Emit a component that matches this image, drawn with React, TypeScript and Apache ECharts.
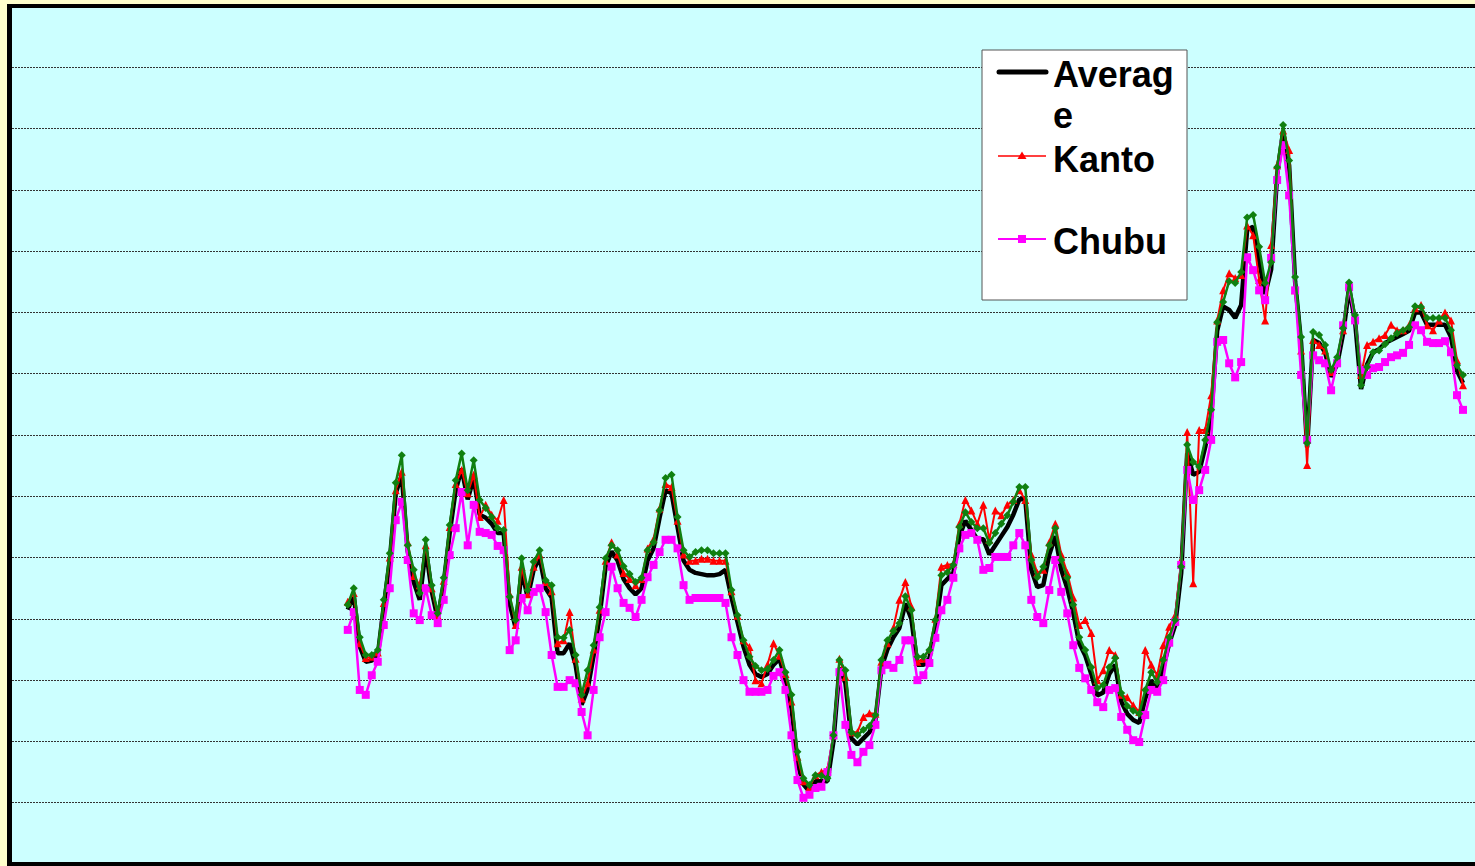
import React, { useEffect, useRef } from "react";
import * as echarts from "echarts";

// Weekly index values (plot units)
const LEAD_EMPTY = 56; // weeks before the series start
const TOTAL_WEEKS = 245;
const categories: string[] = Array.from({ length: TOTAL_WEEKS }, (_, i) => String(i + 1));

const average = [
  41.5, 43.8, 35.5, 33.0, 33.2, 34.0, 42.0, 49.5, 60.5, 63.5,
  51.0, 46.0, 43.1, 51.5, 44.5, 40.0, 45.8, 54.0, 61.0, 64.5,
  59.5, 63.0, 57.0, 56.5, 55.5, 54.0, 54.0, 42.5, 38.5, 48.0,
  43.5, 48.0, 50.0, 45.0, 43.5, 34.4, 34.4, 36.0, 32.5, 26.0,
  28.5, 34.0, 40.5, 48.5, 51.0, 49.5, 46.5, 45.0, 44.0, 45.0,
  49.5, 51.5, 56.5, 61.0, 60.5, 55.0, 49.5, 48.0, 47.5, 47.3,
  47.1, 47.1, 47.3, 48.0, 43.5, 39.5, 35.5, 32.5, 31.0, 30.5,
  31.0, 32.5, 33.5, 30.0, 25.5, 16.5, 13.0, 11.8, 13.5, 13.5,
  13.5, 20.0, 32.0, 29.5, 20.5, 19.5, 20.5, 21.5, 23.5, 32.0,
  35.0, 37.0, 38.5, 42.5, 40.0, 32.5, 32.5, 33.5, 38.5, 45.5,
  46.5, 47.5, 53.5, 56.0, 54.5, 53.0, 53.0, 50.5, 52.0, 53.5,
  55.0, 57.0, 59.5, 59.5, 48.0, 45.2, 45.5, 50.5, 53.5, 48.0,
  45.0, 41.0, 36.0, 34.0, 31.0, 27.5, 28.0, 31.0, 32.5, 26.5,
  24.5, 23.5, 23.0, 27.0, 30.0, 28.5, 32.0, 36.0, 39.0, 47.5,
  67.0, 63.5, 64.0, 68.0, 73.0, 87.0, 91.0, 90.4, 89.1, 91.2,
  103.5, 104.0, 98.5, 93.0, 97.0, 112.5, 119.5, 114.0, 95.0, 85.0,
  68.0, 85.5, 85.0, 83.5, 79.5, 81.5, 86.5, 94.0, 88.5, 77.5,
  81.5, 83.5, 84.0, 85.0, 85.5, 86.0, 86.5, 87.0, 90.0, 90.0,
  88.0, 88.0, 88.0, 88.0, 86.0, 80.5, 78.5,
];

const kanto = [
  42.8, 44.2, 36.0, 33.6, 33.8, 34.5, 42.6, 50.0, 61.0, 64.0,
  52.5, 47.0, 45.5, 52.0, 45.0, 40.5, 46.2, 55.0, 62.0, 64.3,
  60.5, 63.5, 56.6, 58.6, 57.0, 56.0, 59.4, 44.0, 39.0, 48.5,
  44.0, 48.5, 50.5, 46.0, 44.5, 36.0, 36.5, 41.1, 33.5, 27.0,
  29.5, 35.0, 41.5, 49.5, 52.5, 50.5, 47.5, 46.5, 45.5, 46.5,
  51.5, 53.0, 58.0, 62.0, 61.5, 56.0, 50.5, 49.5, 49.5, 49.8,
  49.8, 49.5, 49.5, 49.5, 44.5, 40.5, 36.5, 35.4, 30.0, 29.5,
  32.5, 36.0, 34.0, 31.0, 26.5, 17.5, 13.5, 12.5, 14.5, 15.0,
  15.5, 21.0, 33.5, 30.5, 21.5, 21.5, 24.0, 24.6, 24.5, 33.0,
  36.0, 38.5, 43.1, 46.0, 42.0, 33.0, 33.5, 35.0, 40.0, 48.5,
  48.8, 49.0, 55.5, 59.4, 57.7, 55.5, 58.6, 52.9, 57.7, 56.9,
  58.6, 59.4, 61.0, 59.4, 50.5, 47.5, 48.0, 52.5, 55.5, 50.5,
  47.5, 43.5, 39.0, 39.8, 37.7, 30.0, 31.6, 34.9, 34.1, 27.6,
  27.2, 25.9, 24.8, 34.9, 32.5, 30.8, 35.7, 38.7, 40.6, 49.6,
  70.5, 45.8, 70.8, 70.8, 76.5, 88.7, 93.6, 96.4, 95.6, 96.1,
  104.2, 102.6, 95.3, 88.7, 101.0, 114.0, 119.7, 116.5, 93.6, 83.8,
  65.1, 85.5, 84.7, 83.8, 80.3, 82.2, 87.1, 94.5, 89.1, 79.8,
  84.7, 85.2, 85.8, 86.3, 88.0, 87.1, 87.1, 87.9, 90.7, 91.2,
  87.9, 87.1, 88.7, 90.0, 88.7, 82.2, 78.1,
];

const chubu = [
  38.2, 41.1, 28.4, 27.6, 30.8, 33.0, 39.0, 45.0, 56.1, 59.1,
  49.6, 40.9, 39.8, 45.0, 40.6, 39.3, 43.1, 50.4, 54.8, 60.7,
  52.0, 58.6, 54.2, 54.0, 53.7, 51.9, 51.2, 34.9, 36.5, 43.4,
  41.4, 44.4, 45.0, 41.1, 34.1, 28.9, 28.9, 30.0, 29.5, 24.8,
  21.0, 28.4, 37.0, 41.1, 48.5, 45.0, 42.6, 41.8, 40.3, 43.1,
  46.8, 48.8, 50.9, 52.9, 52.9, 51.5, 45.5, 43.1, 43.4, 43.4,
  43.4, 43.4, 43.4, 42.6, 37.0, 34.1, 30.0, 28.1, 28.1, 28.1,
  28.4, 30.7, 31.3, 28.4, 21.0, 13.7, 10.8, 11.3, 12.4, 12.6,
  15.0, 21.0, 31.3, 22.7, 17.8, 16.6, 18.3, 19.4, 22.7, 31.6,
  32.5, 32.0, 33.3, 36.5, 36.5, 30.0, 30.8, 32.8, 36.9, 41.4,
  43.1, 46.7, 51.5, 53.7, 54.0, 52.9, 48.0, 48.3, 50.1, 50.1,
  50.1, 52.0, 54.0, 52.0, 43.1, 40.3, 39.3, 44.7, 49.6, 44.4,
  40.9, 35.7, 32.0, 30.3, 28.4, 26.4, 25.6, 28.4, 28.7, 24.0,
  21.9, 20.2, 19.9, 24.3, 28.4, 28.1, 30.0, 36.1, 39.5, 48.8,
  64.3, 59.4, 61.0, 64.3, 69.2, 85.2, 85.5, 81.7, 79.4, 81.9,
  99.0, 96.9, 93.6, 92.0, 98.9, 111.6, 117.3, 109.1, 93.6, 79.8,
  69.2, 83.0, 82.2, 81.7, 77.3, 81.7, 87.9, 94.1, 88.7, 80.6,
  79.8, 80.9, 81.1, 81.9, 82.7, 83.0, 83.4, 84.7, 87.9, 87.1,
  85.2, 85.0, 85.0, 85.3, 83.5, 76.5, 74.1,
];

const region4 = [
  42.3, 45.0, 37.0, 34.1, 34.1, 34.9, 43.1, 50.7, 62.2, 66.7,
  52.0, 48.0, 44.2, 52.9, 45.5, 40.9, 46.7, 55.3, 62.6, 67.0,
  61.0, 65.9, 59.4, 58.1, 56.6, 54.8, 54.5, 43.6, 39.8, 49.9,
  44.7, 49.3, 51.2, 46.3, 45.5, 37.0, 36.9, 38.2, 34.1, 27.6,
  31.6, 35.7, 41.9, 49.9, 52.0, 51.2, 48.6, 47.3, 46.0, 46.7,
  51.2, 52.5, 57.7, 63.0, 63.5, 56.6, 51.2, 50.1, 50.9, 51.2,
  51.2, 50.7, 50.7, 50.7, 44.7, 40.6, 36.5, 33.8, 32.3, 31.6,
  31.8, 33.3, 34.9, 31.3, 27.6, 18.3, 14.0, 12.9, 14.5, 14.4,
  14.0, 21.0, 33.3, 31.6, 21.5, 21.0, 21.9, 22.5, 24.3, 33.3,
  36.5, 38.0, 39.3, 43.7, 41.4, 33.8, 33.8, 34.9, 39.8, 47.1,
  47.6, 48.8, 55.0, 57.4, 55.8, 54.8, 54.8, 52.4, 54.0, 55.5,
  56.9, 59.1, 61.5, 61.5, 49.6, 46.8, 48.5, 52.0, 54.8, 49.6,
  46.7, 42.3, 37.0, 34.9, 32.1, 28.7, 29.2, 32.1, 33.6, 27.9,
  25.8, 25.0, 24.5, 28.4, 31.3, 29.7, 33.3, 37.0, 39.8, 48.5,
  68.4, 65.6, 64.8, 69.2, 74.1, 88.4, 91.7, 95.1, 94.8, 96.6,
  105.5, 105.9, 100.7, 94.8, 98.2, 113.7, 120.6, 114.8, 95.8, 86.0,
  68.7, 86.8, 86.3, 84.7, 80.6, 82.7, 87.4, 94.9, 89.6, 78.1,
  81.1, 83.5, 83.8, 84.8, 85.8, 86.6, 87.1, 87.6, 91.0, 90.9,
  89.1, 89.1, 89.1, 89.1, 87.1, 81.4, 79.8,
];

const Y_MIN = 0;
const Y_MAX = 140;
const Y_STEP = 10;

function pad(values: number[]): (number | null)[] {
  const out: (number | null)[] = [];
  for (let i = 0; i < LEAD_EMPTY; i++) out.push(null);
  for (const v of values) out.push(v);
  while (out.length < TOTAL_WEEKS) out.push(null);
  return out;
}

const FONT = "'Liberation Sans', Arial, sans-serif";

export default function App() {
  const ref = useRef<HTMLDivElement>(null);

  useEffect(() => {
    if (!ref.current) return;
    const chart = echarts.init(ref.current, undefined, { renderer: "svg" });
    const legendText = (text: string, y: number) => ({
      type: "text",
      z: 110,
      style: {
        text,
        x: 1053,
        y,
        fill: "#000",
        font: `bold 36px ${FONT}`,
        verticalAlign: "middle",
        align: "left",
      },
    });
    chart.setOption({
      animation: false,
      backgroundColor: "#FFFFCC",
      grid: {
        left: 12,
        top: 6,
        right: 0,
        bottom: 2,
        show: true,
        backgroundColor: "#CCFFFF",
        borderWidth: 0,
      },
      xAxis: {
        type: "category",
        data: categories,
        boundaryGap: false,
        axisLine: { show: false },
        axisTick: { show: false },
        axisLabel: { show: false },
        splitLine: { show: false },
      },
      yAxis: {
        type: "value",
        min: Y_MIN,
        max: Y_MAX,
        interval: Y_STEP,
        axisLine: { show: false },
        axisTick: { show: false },
        axisLabel: { show: false },
        splitLine: {
          show: true,
          lineStyle: { color: "#333", width: 1, type: [2, 1] },
        },
      },
      series: [
        {
          name: "Average",
          type: "line",
          data: pad(average),
          showSymbol: false,
          connectNulls: false,
          lineStyle: { color: "#000", width: 4.5 },
          itemStyle: { color: "#000" },
          z: 2,
        },
        {
          name: "Kanto",
          type: "line",
          data: pad(kanto),
          symbol: "triangle",
          symbolSize: 8,
          showAllSymbol: true,
          lineStyle: { color: "#FF0000", width: 2 },
          itemStyle: { color: "#FF0000" },
          z: 3,
        },
        {
          name: "Chubu",
          type: "line",
          data: pad(chubu),
          symbol: "rect",
          symbolSize: 8,
          showAllSymbol: true,
          lineStyle: { color: "#FF00FF", width: 2.5 },
          itemStyle: { color: "#FF00FF" },
          z: 4,
        },
        {
          name: "Region 4",
          type: "line",
          data: pad(region4),
          symbol: "diamond",
          symbolSize: 8,
          showAllSymbol: true,
          lineStyle: { color: "#108010", width: 2.5 },
          itemStyle: { color: "#108010" },
          z: 5,
        },
      ],
      graphic: [
        // plot frame
        { type: "rect", z: 100, shape: { x: 7, y: 4, width: 5, height: 862 }, style: { fill: "#000" } },
        { type: "rect", z: 100, shape: { x: 7, y: 4, width: 1468, height: 4 }, style: { fill: "#000" } },
        { type: "rect", z: 100, shape: { x: 7, y: 862, width: 1468, height: 4 }, style: { fill: "#000" } },
        // legend box
        {
          type: "rect",
          z: 100,
          shape: { x: 982, y: 50, width: 205, height: 250 },
          style: { fill: "#fff", stroke: "#555", lineWidth: 1 },
        },
        {
          type: "line",
          z: 110,
          shape: { x1: 999, y1: 72, x2: 1046, y2: 72 },
          style: { stroke: "#000", lineWidth: 5, lineCap: "round" },
        },
        {
          type: "line",
          z: 110,
          shape: { x1: 998, y1: 156, x2: 1046, y2: 156 },
          style: { stroke: "#FF0000", lineWidth: 1.5 },
        },
        {
          type: "polygon",
          z: 111,
          shape: { points: [[1022, 151.5], [1026.5, 159], [1017.5, 159]] },
          style: { fill: "#FF0000" },
        },
        {
          type: "line",
          z: 110,
          shape: { x1: 998, y1: 239, x2: 1046, y2: 239 },
          style: { stroke: "#FF00FF", lineWidth: 2 },
        },
        {
          type: "rect",
          z: 111,
          shape: { x: 1018, y: 235, width: 8, height: 8 },
          style: { fill: "#FF00FF" },
        },
        legendText("Averag", 74),
        legendText("e", 115),
        legendText("Kanto", 159),
        legendText("Chubu", 241),
      ],
    });
    return () => chart.dispose();
  }, []);

  return (
    <div
      ref={ref}
      style={{ position: "fixed", left: 0, top: 0, width: 1475, height: 866 }}
    />
  );
}
